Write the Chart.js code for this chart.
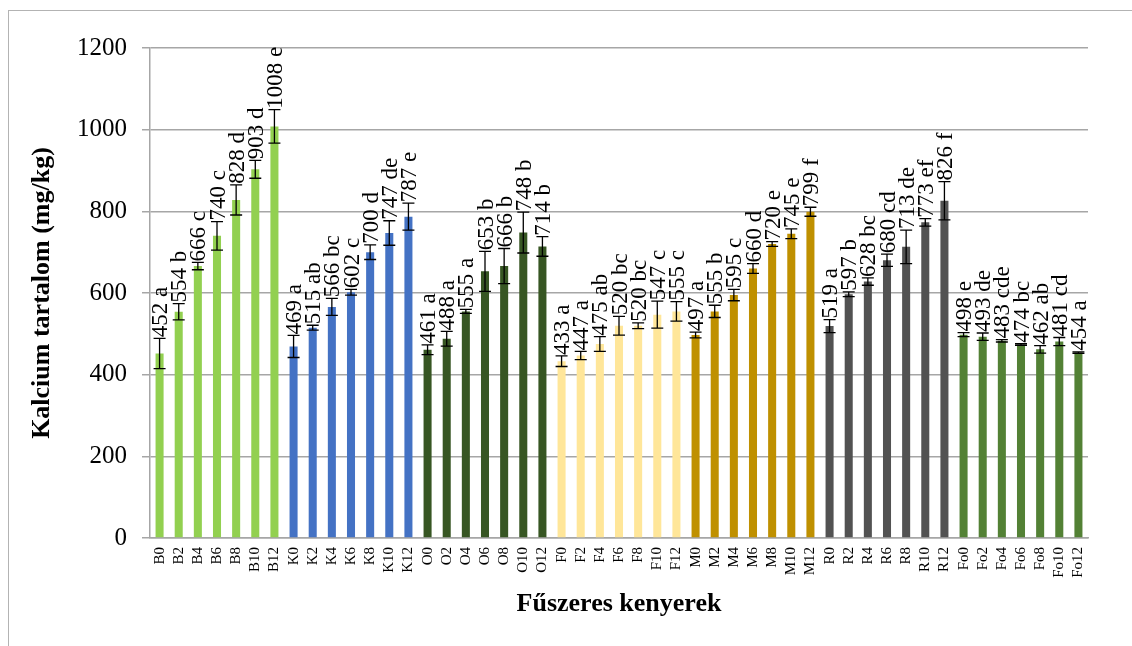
<!DOCTYPE html>
<html>
<head>
<meta charset="utf-8">
<script src="https://cdn.jsdelivr.net/npm/chart.js@4/dist/chart.umd.min.js"></script>
<style>
  html, body { margin: 0; padding: 0; background: #fff; }
  #wrap { width: 1132px; height: 646px; position: relative; }
</style>
</head>
<body>
<div id="wrap"><canvas id="calcium"></canvas></div>
<script>
// categories (7 breads x 7 spice levels)
const categories = [
  'B0', 'B2', 'B4', 'B6', 'B8', 'B10', 'B12',
  'K0', 'K2', 'K4', 'K6', 'K8', 'K10', 'K12',
  'O0', 'O2', 'O4', 'O6', 'O8', 'O10', 'O12',
  'F0', 'F2', 'F4', 'F6', 'F8', 'F10', 'F12',
  'M0', 'M2', 'M4', 'M6', 'M8', 'M10', 'M12',
  'R0', 'R2', 'R4', 'R6', 'R8', 'R10', 'R12',
  'Fo0', 'Fo2', 'Fo4', 'Fo6', 'Fo8', 'Fo10', 'Fo12'
]
const values = [
  452, 554, 666, 740, 828, 903, 1008,
  469, 515, 566, 602, 700, 747, 787,
  461, 488, 555, 653, 666, 748, 714,
  433, 447, 475, 520, 520, 547, 555,
  497, 555, 595, 660, 720, 745, 799,
  519, 597, 628, 680, 713, 773, 826,
  498, 493, 483, 474, 462, 481, 454
]
// standard deviation
const errors = [
  37, 20, 9, 35, 37, 22, 41,
  27, 6, 21, 7, 18, 30, 33,
  12, 18, 5, 49, 43, 50, 24,
  13, 10, 18, 23, 7, 33, 24,
  7, 15, 14, 12, 6, 12, 11,
  16, 6, 9, 15, 41, 9, 47,
  5, 9, 3, 2, 9, 10, 2
]
// significance letters
const letters = [
  'a', 'b', 'c', 'c', 'd', 'd', 'e',
  'a', 'ab', 'bc', 'c', 'd', 'de', 'e',
  'a', 'a', 'a', 'b', 'b', 'b', 'b',
  'a', 'a', 'ab', 'bc', 'bc', 'c', 'c',
  'a', 'b', 'c', 'd', 'e', 'e', 'f',
  'a', 'b', 'bc', 'cd', 'de', 'ef', 'f',
  'e', 'de', 'cde', 'bc', 'ab', 'cd', 'a'
]
const groupColors = ['#92D050', '#4472C4', '#375623', '#FFE699', '#BF9000', '#525252', '#538135']
const yTicks = [0, 200, 400, 600, 800, 1000, 1200]

const serif = '"Liberation Serif", "Times New Roman", serif'
const gridGray = '#a6a6a6'

const barColors = categories.map((c, i) => groupColors[Math.floor(i / 7)])

// whiskers + "value letter" labels on top of each bar
const errorBarPlugin = {
  id: 'errorBars',
  afterDatasetsDraw(chart) {
    const ctx = chart.ctx
    const meta = chart.getDatasetMeta(0)
    const y = chart.scales.y
    ctx.save()
    ctx.strokeStyle = '#000'
    ctx.lineWidth = 1.3
    meta.data.forEach((bar, i) => {
      const x = bar.x
      const top = y.getPixelForValue(values[i] + errors[i])
      const bottom = y.getPixelForValue(values[i] - errors[i])
      ctx.beginPath()
      ctx.moveTo(x, top); ctx.lineTo(x, bottom)
      ctx.moveTo(x - 6, top); ctx.lineTo(x + 6, top)
      ctx.moveTo(x - 6, bottom); ctx.lineTo(x + 6, bottom)
      ctx.stroke()

      ctx.save()
      ctx.translate(x + 7.5, top - 1)
      ctx.rotate(-Math.PI / 2)
      ctx.fillStyle = '#000'
      ctx.font = '23px ' + serif
      ctx.textAlign = 'left'
      ctx.textBaseline = 'alphabetic'
      ctx.fillText(values[i] + ' ' + letters[i], 0, 0)
      ctx.restore()
    })
    ctx.restore()
  }
}

// thin frame of the chart object (only top and left edges are visible)
const framePlugin = {
  id: 'frame',
  beforeDraw(chart) {
    const ctx = chart.ctx
    ctx.save()
    ctx.strokeStyle = '#b3b3b3'
    ctx.lineWidth = 1
    ctx.strokeRect(8.5, 10.5, 1400, 900)
    ctx.restore()
  }
}

new Chart(document.getElementById('calcium'), {
  type: 'bar',
  data: {
    labels: categories,
    datasets: [{
      label: 'Kalcium',
      data: values,
      backgroundColor: barColors,
      barPercentage: 0.42,
      categoryPercentage: 1
    }]
  },
  plugins: [framePlugin, errorBarPlugin],
  options: {
    responsive: true,
    maintainAspectRatio: false,
    animation: false,
    layout: { padding: { top: 48, right: 44, bottom: 0, left: 0 } },
    plugins: {
      legend: { display: false },
      tooltip: { enabled: false }
    },
    scales: {
      x: {
        grid: { display: false, drawTicks: false },
        border: { display: true, color: gridGray, width: 1.5 },
        ticks: {
          autoSkip: false, minRotation: 90, maxRotation: 90, padding: 9,
          color: '#000', font: { family: serif, size: 15 }
        },
        title: {
          display: true, text: 'Fűszeres kenyerek', color: '#000',
          font: { family: serif, size: 26, weight: 'bold' },
          padding: { top: 0, bottom: 26 }
        },
        afterFit(scale) { scale.height = 108 }
      },
      y: {
        min: 0, max: 1200,
        afterBuildTicks(scale) { scale.ticks = yTicks.map(v => ({ value: v })) },
        grid: { color: gridGray, lineWidth: 1.5, tickLength: 8 },
        border: { color: gridGray, width: 1.5 },
        ticks: {
          padding: 15, color: '#000', font: { family: serif, size: 25 },
          callback: (v) => String(v)
        },
        title: {
          display: true, text: 'Kalcium tartalom (mg/kg)', color: '#000',
          font: { family: serif, size: 26, weight: 'bold' },
          padding: { top: 27, bottom: 0 }
        },
        afterFit(scale) { scale.width = 150 }
      }
    }
  }
})
</script>
</body>
</html>
